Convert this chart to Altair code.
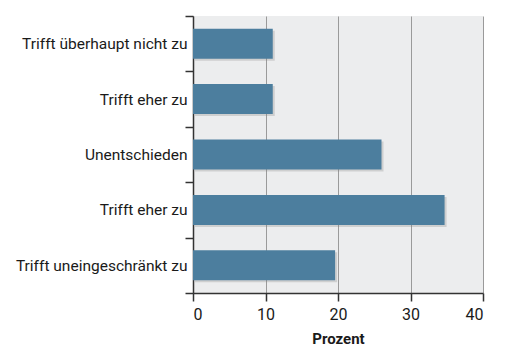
import altair as alt
import pandas as pd

keys = ["a", "b", "c", "d", "e"]
labels = ["Trifft überhaupt nicht zu", "Trifft eher zu", "Unentschieden",
          "Trifft eher zu", "Trifft uneingeschränkt zu"]
values = [11.0, 11.0, 26.0, 34.7, 19.6]
x_ticks = [0, 10, 20, 30, 40]

df = pd.DataFrame({"key": keys, "label": labels, "value": values})

label_map = "{" + ", ".join(f"'{k}': '{l}'" for k, l in zip(keys, labels)) + "}"

FONT = "Roboto"

y_enc = alt.Y(
    "key:N",
    sort=keys,
    scale=alt.Scale(paddingInner=0, paddingOuter=0),
    axis=alt.Axis(
        title=None,
        labelExpr=f"{label_map}[datum.value]",
        tickBand="extent",
        tickSize=8,
        labelPadding=-2,
        labelFontSize=15.5,
        labelFont=FONT,
        labelColor="#1a1a1a",
        domainColor="#333333",
        domainWidth=1.5,
        tickColor="#333333",
        tickWidth=1.5,
        grid=False,
    ),
)

x_enc = alt.X(
    "value:Q",
    scale=alt.Scale(domain=[0, 40], nice=False),
    axis=alt.Axis(
        title="Prozent",
        values=x_ticks,
        tickSize=8,
        labelPadding=5,
        labelFontSize=16,
        labelFont=FONT,
        labelColor="#1a1a1a",
        titleFont=FONT,
        titleFontSize=15,
        titleFontWeight="bold",
        titleColor="#1a1a1a",
        titlePadding=9,
        domainColor="#333333",
        domainWidth=1.5,
        tickColor="#333333",
        tickWidth=1.5,
        grid=True,
        gridColor="#9a9a9a",
        gridWidth=1,
    ),
)

base = alt.Chart(df)

shadow = base.mark_bar(size=30, color="#808080", opacity=0.28, xOffset=2, yOffset=2).encode(
    x=alt.X("value:Q"), y=alt.Y("key:N", sort=keys)
)

bars = base.mark_bar(size=30, color="#4c7e9e").encode(x=x_enc, y=y_enc)

chart = (
    alt.layer(shadow, bars)
    .properties(
        width=290,
        height=277,
        autosize=alt.AutoSizeParams(type="none"),
        padding={"left": 185, "top": 8, "right": 15, "bottom": 59},
        background="white",
    )
    .configure_view(fill="#ecedee", strokeWidth=0)
)

chart.save("out.html", embed_options={"renderer": "svg", "actions": False})
